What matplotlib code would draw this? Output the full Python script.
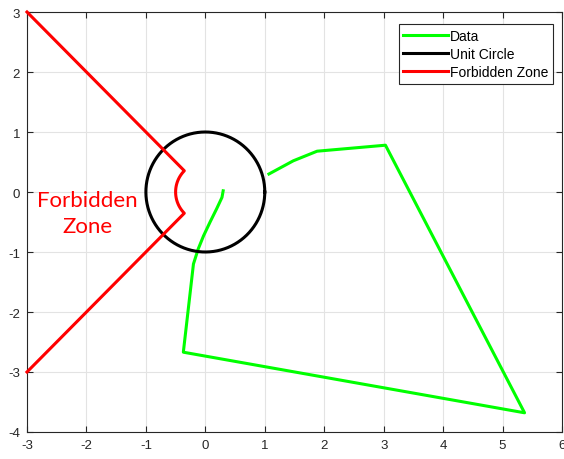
import numpy as np
import matplotlib
matplotlib.use("Agg")
import matplotlib.pyplot as plt

plt.rcParams["axes.unicode_minus"] = False
plt.rcParams["font.family"] = ["Liberation Sans", "DejaVu Sans"]

# Nyquist-style trace
data_x = [0.30, 0.28, 0.19, 0.08, -0.03, -0.12, -0.20, -0.37, 5.37, 3.03, 1.88, 1.48, 1.07]
data_y = [0.02, -0.09, -0.28, -0.50, -0.73, -0.95, -1.20, -2.67, -3.68, 0.78, 0.68, 0.52, 0.30]

# forbidden zone boundary: two 45-degree rays joined by an arc of radius 0.5
zone_radius = 0.5
zone_arc_deg = [135, 225]
zone_ray_end = 3.0

xlim = [-3, 6]
ylim = [-4, 3]
xticks = [-3, -2, -1, 0, 1, 2, 3, 4, 5, 6]
yticks = [-4, -3, -2, -1, 0, 1, 2, 3]

fig = plt.figure(figsize=(5.64, 4.60), dpi=100)
ax = fig.add_axes([27 / 564, 1 - 433 / 460, 535 / 564, 420 / 460])

theta = np.linspace(0, 2 * np.pi, 400)
circ_x = np.cos(theta)
circ_y = np.sin(theta)

arc = np.deg2rad(np.linspace(zone_arc_deg[0], zone_arc_deg[1], 60))
arc_x = zone_radius * np.cos(arc)
arc_y = zone_radius * np.sin(arc)
zone_x = np.concatenate([[-zone_ray_end], arc_x, [-zone_ray_end]])
zone_y = np.concatenate([[zone_ray_end], arc_y, [-zone_ray_end]])

ax.plot(data_x, data_y, color="#00ff00", lw=2.2, label="Data", zorder=3)
ax.plot(circ_x, circ_y, color="black", lw=2.2, label="Unit Circle", zorder=3)
ax.plot(zone_x, zone_y, color="#ff0000", lw=2.2, label="Forbidden Zone", zorder=3,
        clip_on=False)

ax.text(-1.99, -0.35, "Forbidden\nZone", color="#ff0000", fontsize=16,
        family="Lato", ha="center", va="center", linespacing=1.4)

ax.set_xlim(xlim)
ax.set_ylim(ylim)
ax.set_xticks(xticks)
ax.set_yticks(yticks)
ax.grid(True, color="#e3e3e3", lw=0.8)
ax.set_axisbelow(True)
ax.tick_params(direction="in", top=True, right=True, length=4, width=0.8,
               labelsize=9.5, colors="#262626", pad=5)
for s in ax.spines.values():
    s.set_color("#262626")
    s.set_linewidth(0.8)

leg = ax.legend(loc="upper right", fontsize=10, handlelength=3.2, handletextpad=0.15,
                borderpad=0.35, labelspacing=0.3, fancybox=False, framealpha=1,
                edgecolor="#262626", bbox_to_anchor=(0.9835, 0.972),
                borderaxespad=0.0)
leg.get_frame().set_linewidth(0.8)

fig.savefig("out.png", dpi=100)
